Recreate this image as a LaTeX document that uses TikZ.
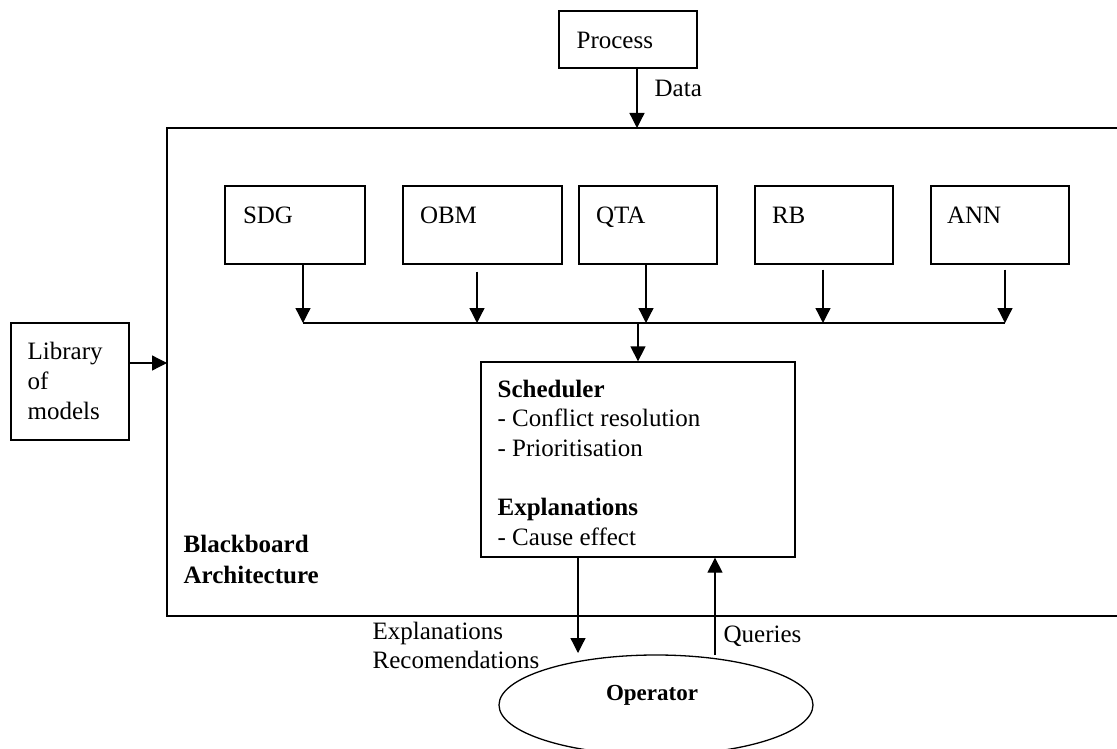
\documentclass[tikz,border=0pt]{standalone}
\usepackage{fontspec}
\setmainfont{Liberation Serif}
\usetikzlibrary{arrows.meta,shapes.geometric,calc}
\begin{document}
\begin{tikzpicture}[x=1pt,y=-1pt,line width=1.3pt,
  box/.style={draw,rectangle,inner sep=0pt,line width=1.3pt},
  txt/.style={inner sep=0pt,anchor=base west,align=left,font=\fontsize{25}{29.6}\selectfont},
  btxt/.style={txt,font=\fontsize{25}{31}\selectfont\bfseries},
  arr/.style={-{Triangle[length=15pt,width=15pt]}}]
\useasboundingbox (0,0) rectangle (1117,749);
\clip (0,0) rectangle (1117,749);

% outer blackboard frame (continues past the right edge)
\node[box,minimum width=973,minimum height=488] (bb) at (653.5,372) {};
% multi-line labels are placed by the baseline of their last line
\node[btxt] (bblabel) at (183,583) {Blackboard\\Architecture};

% process feeding data in from the top
\node[box,minimum width=138,minimum height=57] (proc) at (628,39.5) {};
\node[txt] (proclabel) at (576,49) {Process};
\coordinate (din) at (637,128);
\draw[arr] (proc.south -| din) -- (din);
\node[txt] (datalabel) at (654,97) {Data};

% model library on the left
\node[box,minimum width=118,minimum height=117] (lib) at (70,381.5) {};
\node[txt,font=\fontsize{25}{30}\selectfont] (liblabel) at (27,419) {Library\\of\\models};
\coordinate (lin) at (167,363);
\draw[arr] (lib.east |- lin) -- (lin);

% knowledge sources
\node[box,minimum width=140,minimum height=78] (sdg) at (295,225) {};
\node[box,minimum width=159,minimum height=78] (obm) at (482.5,225) {};
\node[box,minimum width=138,minimum height=78] (qta) at (648,225) {};
\node[box,minimum width=138,minimum height=78] (rb)  at (824,225) {};
\node[box,minimum width=138,minimum height=78] (ann) at (1000,225) {};
\node[txt] (sdglabel) at ($(sdg.west)+(18,-2)$) {SDG};
\node[txt] (obmlabel) at ($(obm.west)+(17,-2)$) {OBM};
\node[txt] (qtalabel) at ($(qta.west)+(17,-2)$) {QTA};
\node[txt] (rblabel)  at ($(rb.west)+(17,-2)$) {RB};
\node[txt] (annlabel) at ($(ann.west)+(16,-2)$) {ANN};

% common bus
\coordinate (b1) at (303,323);
\coordinate (b2) at (477,323);
\coordinate (b3) at (646,323);
\coordinate (b4) at (823,323);
\coordinate (b5) at (1005,323);
\draw (b1) -- (b5);
\draw[arr] (sdg.south -| b1) -- (b1);
\draw[arr] ($(obm.south -| b2)+(0,7)$) -- (b2);
\draw[arr] (qta.south -| b3) -- (b3);
\draw[arr] ($(rb.south -| b4)+(0,5)$) -- (b4);
\draw[arr] ($(ann.south -| b5)+(0,5)$) -- (b5);

% scheduler
\node[box,minimum width=314,minimum height=195] (sched) at (638,459.5) {};
\draw[arr] (sched.north |- b1) -- (sched.north);
\node[txt] (schedlabel) at (497,545)
  {\textbf{Scheduler}\\- Conflict resolution\\- Prioritisation\\[29.6pt]\textbf{Explanations}\\- Cause effect};

% operator
\node[draw,ellipse,inner sep=0pt,minimum width=314,minimum height=100] (op) at (656,705) {};
\node[inner sep=0pt,anchor=base,font=\fontsize{23}{28}\selectfont\bfseries] (oplabel) at (652,700) {Operator};

\coordinate (eout) at (578,653);
\draw[arr] (sched.south -| eout) -- (eout);
\coordinate (qin) at (715,655);
\draw[arr] (qin) -- (sched.south -| qin);
\node[txt,font=\fontsize{25}{29}\selectfont] (explabel) at (372,668) {Explanations\\Recomendations};
\node[txt] (qlabel) at (723,642) {Queries};
\end{tikzpicture}
\end{document}
